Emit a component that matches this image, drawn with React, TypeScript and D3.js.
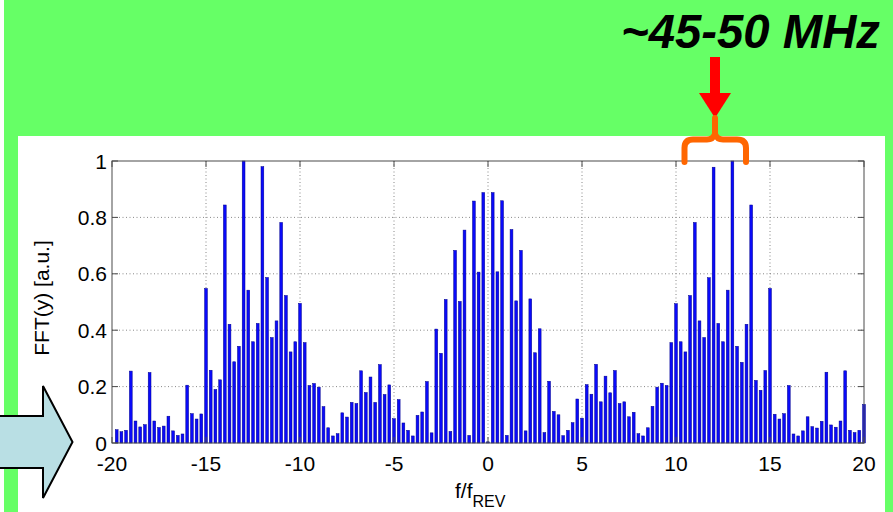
import React from "react";
import * as d3 from "d3";

// Spectrum bins: f/f_REV from -19.75 to 20 in steps of 0.25
const binStart = -19.75;
const binStep = 0.25;
const fftValues: number[] = [
  // -19.75 .. -10
  0.047, 0.040, 0.045, 0.255, 0.078, 0.057, 0.065, 0.250, 0.078, 0.055,
  0.060, 0.095, 0.043, 0.027, 0.032, 0.205, 0.104, 0.085, 0.103, 0.548,
  0.258, 0.190, 0.224, 0.844, 0.421, 0.288, 0.343, 1.000, 0.542, 0.359,
  0.424, 0.980, 0.587, 0.374, 0.433, 0.782, 0.523, 0.323, 0.359, 0.495,
  // -9.75 .. 0
  0.356, 0.204, 0.211, 0.198, 0.129, 0.054, 0.025, 0.033, 0.107, 0.092,
  0.144, 0.140, 0.256, 0.179, 0.234, 0.144, 0.278, 0.172, 0.206, 0.086,
  0.154, 0.071, 0.045, 0.025, 0.098, 0.110, 0.218, 0.036, 0.404, 0.318,
  0.509, 0.041, 0.683, 0.502, 0.755, 0.027, 0.858, 0.606, 0.888, 0.004,
  // 0.25 .. 10
  0.888, 0.607, 0.859, 0.027, 0.757, 0.504, 0.683, 0.043, 0.511, 0.320,
  0.405, 0.037, 0.219, 0.112, 0.100, 0.026, 0.045, 0.072, 0.156, 0.088,
  0.207, 0.173, 0.279, 0.146, 0.237, 0.178, 0.257, 0.140, 0.146, 0.093,
  0.109, 0.033, 0.025, 0.054, 0.130, 0.198, 0.212, 0.204, 0.356, 0.494,
  // 10.25 .. 20
  0.359, 0.323, 0.523, 0.782, 0.433, 0.374, 0.586, 0.978, 0.424, 0.359,
  0.542, 1.000, 0.343, 0.286, 0.421, 0.844, 0.222, 0.187, 0.257, 0.548,
  0.102, 0.085, 0.104, 0.204, 0.032, 0.025, 0.043, 0.093, 0.058, 0.053,
  0.077, 0.251, 0.064, 0.056, 0.078, 0.256, 0.045, 0.037, 0.045, 0.137,
];

const xTicks: number[] = [-20, -15, -10, -5, 0, 5, 10, 15, 20];
const yTicks: number[] = [0, 0.2, 0.4, 0.6, 0.8, 1];
const yTickLabels: string[] = ["0", "0.2", "0.4", "0.6", "0.8", "1"];
const titleText = "~45-50 MHz";
const yLabel = "FFT(y) [a.u.]";

const W = 893;
const H = 512;
const plot = { left: 112, right: 864, top: 161, bottom: 443 };

export default function App() {
  const x = d3.scaleLinear().domain([-20, 20]).range([plot.left, plot.right]);
  const y = d3.scaleLinear().domain([0, 1]).range([plot.bottom, plot.top]);
  const bw = 2.8;
  const font = "'Liberation Sans', Arial, Helvetica, sans-serif";

  const bracePath =
    "M684.5,162 L684.5,148 Q684.5,139.5 693,139.5 L707,139.5 Q713,139.5 715,134 Q717,139.5 723,139.5 L737,139.5 Q746,139.5 746,148 L746,162";

  return (
    <svg
      width={W}
      height={H}
      viewBox={`0 0 ${W} ${H}`}
      style={{ position: "fixed", left: 0, top: 0, display: "block" }}
    >
      {/* slide background */}
      <rect x={0} y={0} width={W} height={H} fill="#66FF66" />
      <rect x={0} y={0} width={4} height={H} fill="#ffffff" />
      <rect x={18} y={136} width={867} height={H - 136} fill="#ffffff" />

      {/* grid */}
      <g stroke="#7a7a7a" strokeWidth={0.9} strokeDasharray="1,2.5">
        {xTicks.slice(1, -1).map((t) => (
          <line key={"gx" + t} x1={x(t)} x2={x(t)} y1={plot.top} y2={plot.bottom} />
        ))}
        {yTicks.slice(1, -1).map((t) => (
          <line key={"gy" + t} x1={plot.left} x2={plot.right} y1={y(t)} y2={y(t)} />
        ))}
      </g>

      {/* bars */}
      <g>
        {fftValues.map((v, i) => {
          const f = binStart + i * binStep;
          const top = y(v);
          return (
            <rect
              key={i}
              x={x(f) - bw / 2}
              y={top}
              width={bw}
              height={Math.max(0.6, y(0) - top)}
              fill="#0a0afa"
              stroke="#00008c"
              strokeWidth={0.5}
            />
          );
        })}
      </g>

      {/* axes box + ticks */}
      <rect
        x={plot.left}
        y={plot.top}
        width={plot.right - plot.left}
        height={plot.bottom - plot.top}
        fill="none"
        stroke="#4a4a4a"
        strokeWidth={1}
      />
      <g stroke="#4a4a4a" strokeWidth={1}>
        {xTicks.map((t) => (
          <g key={"tx" + t}>
            <line x1={x(t)} x2={x(t)} y1={plot.bottom} y2={plot.bottom - 6} />
            <line x1={x(t)} x2={x(t)} y1={plot.top} y2={plot.top + 6} />
          </g>
        ))}
        {yTicks.map((t) => (
          <g key={"ty" + t}>
            <line x1={plot.left} x2={plot.left + 6} y1={y(t)} y2={y(t)} />
            <line x1={plot.right} x2={plot.right - 6} y1={y(t)} y2={y(t)} />
          </g>
        ))}
      </g>

      {/* tick labels */}
      <g fontFamily={font} fontSize={21} fill="#000">
        {xTicks.map((t) => (
          <text key={"lx" + t} x={x(t)} y={471} textAnchor="middle">
            {t}
          </text>
        ))}
        {yTicks.map((t, i) => (
          <text key={"ly" + t} x={107} y={y(t) + 7.5} textAnchor="end">
            {yTickLabels[i]}
          </text>
        ))}
      </g>

      {/* axis labels */}
      <text x={455} y={498} fontFamily={font} fontSize={21} fill="#000">
        f/f
        <tspan fontSize={16} dy={9}>
          REV
        </tspan>
      </text>
      <text
        transform="translate(49,298) rotate(-90)"
        textAnchor="middle"
        fontFamily={font}
        fontSize={21}
        fill="#000"
      >
        {yLabel}
      </text>

      {/* big left arrow */}
      <path
        d="M-5,416 L43,416 L43,386 L72.5,442 L43,498 L43,468 L-5,468 Z"
        fill="#B9DFE4"
        stroke="#000"
        strokeWidth={2}
        strokeLinejoin="miter"
      />

      {/* title */}
      <text
        x={621}
        y={48}
        fontFamily={font}
        fontSize={48}
        fontWeight="bold"
        fontStyle="italic"
        fill="#000"
        textLength={259}
        lengthAdjust="spacingAndGlyphs"
      >
        {titleText}
      </text>

      {/* red arrow */}
      <rect x={710} y={57} width={10} height={38} fill="#FF0000" />
      <path d="M699,93 L731,93 L715,118 Z" fill="#FF0000" />

      {/* orange brace */}
      <path
        d={bracePath}
        fill="none"
        stroke="#FF6600"
        strokeWidth={6}
        strokeLinecap="round"
        strokeLinejoin="round"
      />
      <line x1={715} x2={715} y1={118} y2={136} stroke="#FF6600" strokeWidth={6} strokeLinecap="round" />
    </svg>
  );
}
